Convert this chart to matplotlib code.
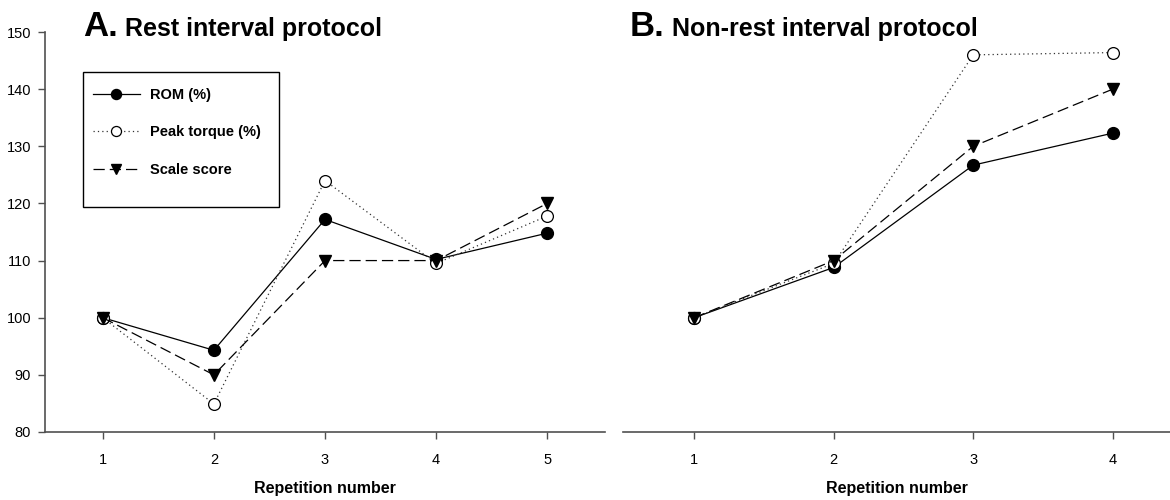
import numpy as np
import matplotlib.pyplot as plt
from matplotlib.patches import Rectangle

plt.rcParams['font.family'] = ['Liberation Sans', 'DejaVu Sans']

# panel A: rest interval protocol
rep_a = [1, 2, 3, 4, 5]
rom_a = [100, 94.3, 117.2, 110.2, 114.8]
peak_a = [100, 84.9, 124.0, 109.5, 117.8]
scale_a = [100, 90, 110, 110, 120]

# panel B: non-rest interval protocol
rep_b = [1, 2, 3, 4]
rom_b = [100, 108.8, 126.7, 132.3]
peak_b = [100, 109.5, 146.0, 146.4]
scale_b = [100, 110, 130, 140]

labels = ['ROM (%)', 'Peak torque (%)', 'Scale score']
yticks = [80, 90, 100, 110, 120, 130, 140, 150]

fig = plt.figure(figsize=(11.7, 5), dpi=100)
axA = fig.add_axes([45/1170, 1-432/500, 560/1170, 400/500])
axB = fig.add_axes([623/1170, 1-432/500, 547/1170, 400/500])

spine_c = '#505050'


def draw(ax, x, rom, peak, scale):
    l1, = ax.plot(x, rom, color='black', lw=0.9, ls='-', marker='o',
                  ms=8.5, mfc='black', mec='black')
    l2, = ax.plot(x, peak, color='#333333', lw=0.9, ls=(0, (1, 2.5)), marker='o',
                  ms=8.5, mfc='white', mec='black', mew=0.9)
    l3, = ax.plot(x, scale, color='black', lw=0.9, ls=(0, (9, 4)), marker='v',
                  ms=8.5, mfc='black', mec='black')
    ax.set_ylim(80, 150)
    ax.set_xticks(x)
    ax.set_xticklabels([str(v) for v in x])
    ax.spines['top'].set_visible(False)
    ax.spines['right'].set_visible(False)
    ax.spines['bottom'].set_color(spine_c)
    ax.spines['left'].set_color(spine_c)
    ax.spines['bottom'].set_linewidth(1.2)
    ax.spines['left'].set_linewidth(1.2)
    ax.tick_params(direction='out', length=5, width=1, color=spine_c,
                   labelsize=10.5, pad=10)
    ax.set_xlabel('Repetition number', fontsize=11.5, fontweight='bold', labelpad=10)
    return l1, l2, l3


handles = draw(axA, rep_a, rom_a, peak_a, scale_a)
axA.set_xlim(0.48, 5.52)
axA.set_yticks(yticks)
axA.tick_params(axis='y', pad=5)

draw(axB, rep_b, rom_b, peak_b, scale_b)
axB.set_xlim(0.49, 4.41)
axB.spines['left'].set_visible(False)
axB.set_yticks([])

# panel titles
fig.text(83/1170, 1-36/500, 'A.', fontsize=25, fontweight='bold', va='baseline')
fig.text(125/1170, 1-36/500, 'Rest interval protocol', fontsize=18,
         fontweight='bold', va='baseline')
fig.text(630/1170, 1-36/500, 'B.', fontsize=25, fontweight='bold', va='baseline')
fig.text(672/1170, 1-36/500, 'Non-rest interval protocol', fontsize=18,
         fontweight='bold', va='baseline')

# legend
fig.patches.append(Rectangle((83/1170, 1-207/500), 196/1170, 135/500,
                             transform=fig.transFigure, fill=False,
                             edgecolor='black', lw=1))
leg = axA.legend(handles, labels, loc='upper left',
                 bbox_to_anchor=(80/1170, 1-75/500), bbox_transform=fig.transFigure,
                 frameon=False, prop={'weight': 'bold', 'size': 10.5},
                 handlelength=3.2, handletextpad=0.7, labelspacing=1.6,
                 markerscale=0.85)

fig.savefig('out.png', dpi=100)
